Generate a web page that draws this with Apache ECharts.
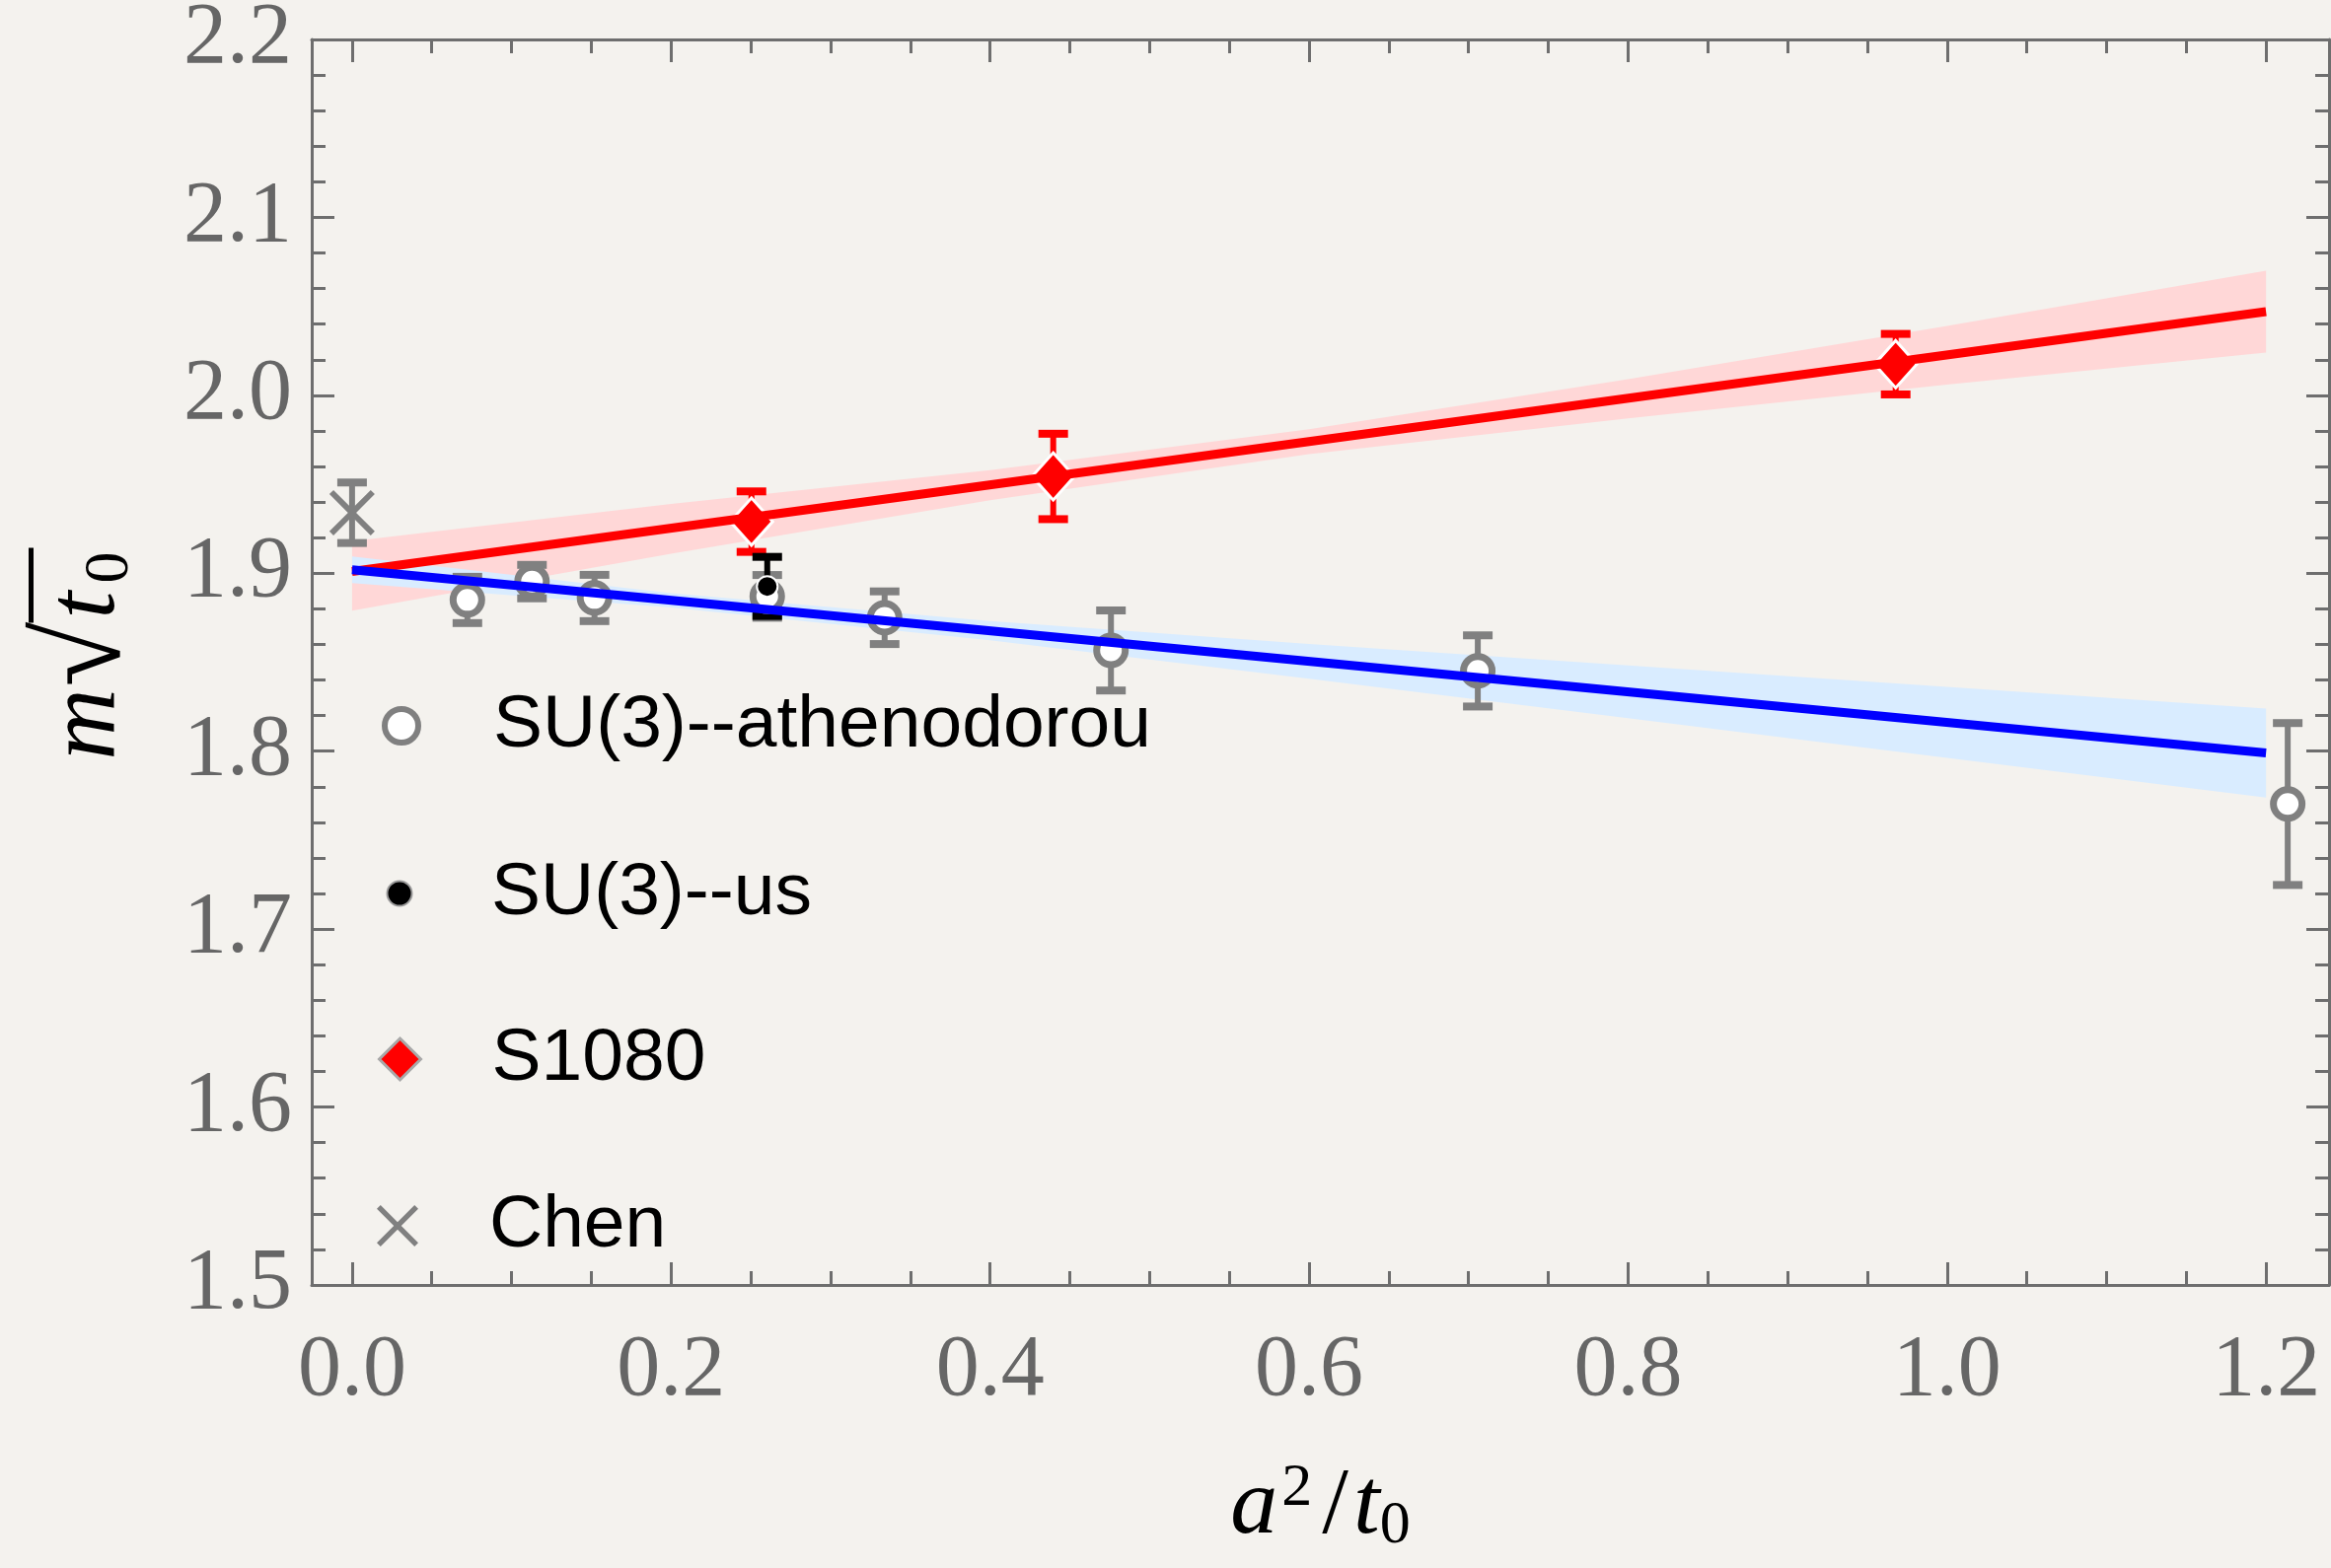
<!DOCTYPE html>
<html>
<head>
<meta charset="utf-8">
<script src="https://cdn.jsdelivr.net/npm/echarts@6/dist/echarts.min.js"></script>
<style>
html,body{margin:0;padding:0;background:#f4f2ee;}
#chart{width:2363px;height:1590px;}
</style>
</head>
<body>
<div id="chart"></div>
<script>
// ---------------- data ----------------
const athenX   = [0.0723, 0.1128, 0.1520, 0.2603, 0.3339, 0.4758, 0.7058, 1.2136];
const athenY   = [1.8850, 1.8953, 1.8861, 1.8870, 1.8750, 1.8566, 1.8451, 1.7703];
const athenErr = [0.0130, 0.0094, 0.0130, 0.0120, 0.0148, 0.0225, 0.0200, 0.0455];

const usX   = [0.2603];
const usY   = [1.8926];
const usErr = [0.0166];

const s1080X   = [0.2504, 0.4396, 0.9678];
const s1080Y   = [1.9290, 1.9544, 2.0175];
const s1080Err = [0.0170, 0.0240, 0.0170];

const chenX   = [0.0];
const chenY   = [1.9340];
const chenErr = [0.0170];

const fitX      = [0.0, 1.2];
const redFitY   = [1.901, 2.047];
const blueFitY  = [1.902, 1.799];

const bandX        = [0.0, 0.2, 0.4, 0.6, 0.8, 1.0, 1.2];
const redBandUp    = [1.918, 1.939, 1.958, 1.981, 2.009, 2.039, 2.070];
const redBandLo    = [1.879, 1.911, 1.941, 1.967, 1.987, 2.006, 2.024];
const blueBandUp   = [1.9095, 1.8888, 1.8731, 1.8603, 1.8482, 1.8361, 1.8240];
const blueBandLo   = [1.8945, 1.8808, 1.8623, 1.8407, 1.8186, 1.7963, 1.7740];

const xMajorTicks = [0.0, 0.2, 0.4, 0.6, 0.8, 1.0, 1.2];
const xMinorTicks = [0.05, 0.1, 0.15, 0.25, 0.3, 0.35, 0.45, 0.5, 0.55, 0.65, 0.7, 0.75, 0.85, 0.9, 0.95, 1.05, 1.1, 1.15];
const xRange = [-0.0253, 1.2395];
const yRange = [1.5, 2.2];
const yStep = 0.1;

const seriesNames = ['SU(3)--athenodorou', 'SU(3)--us', 'S1080', 'Chen'];

// ---------------- styles ----------------
const AX = '#6e6e6e';
const LBL = '#666666';
const GRAY = '#808080';
const serif = 'Liberation Serif';
const sans = 'Liberation Sans';

function zip(xs, ys) { return xs.map((x, i) => [x, ys[i]]); }

function bandSeries(name, xs, lo, hi, color) {
  const data = xs.map((x, i) => [x, lo[i], hi[i]]);
  return {
    type: 'custom', name: name, silent: true, data: data,
    encode: { x: 0, y: [1, 2] },
    renderItem: function (params, api) {
      if (params.dataIndex !== 0) return;
      const up = data.map(d => api.coord([d[0], d[2]]));
      const dn = data.map(d => api.coord([d[0], d[1]])).reverse();
      return { type: 'polygon', shape: { points: up.concat(dn) }, style: { fill: color } };
    }
  };
}

function errSeries(name, xs, ys, es, color) {
  return {
    type: 'custom', name: name, silent: true,
    data: xs.map((x, i) => [x, ys[i], es[i]]),
    encode: { x: 0, y: 1 },
    renderItem: function (params, api) {
      const x = api.value(0), y = api.value(1), e = api.value(2);
      const t = api.coord([x, y + e]), b = api.coord([x, y - e]);
      const hw = 15;
      return {
        type: 'group', children: [
          { type: 'line', shape: { x1: t[0], y1: t[1], x2: b[0], y2: b[1] }, style: { stroke: color, lineWidth: 6 } },
          { type: 'line', shape: { x1: t[0] - hw, y1: t[1], x2: t[0] + hw, y2: t[1] }, style: { stroke: color, lineWidth: 8 } },
          { type: 'line', shape: { x1: b[0] - hw, y1: b[1], x2: b[0] + hw, y2: b[1] }, style: { stroke: color, lineWidth: 8 } }
        ]
      };
    }
  };
}

const xPath = 'path://M0,0.9L0.9,0L5,4.1L9.1,0L10,0.9L5.9,5L10,9.1L9.1,10L5,5.9L0.9,10L0,9.1L4.1,5Z';

function xAxisDef(position, ticks, len, showLine, showLabel) {
  return {
    type: 'value', position: position, min: xRange[0], max: xRange[1],
    axisLine: { show: showLine, onZero: false, lineStyle: { color: AX, width: 3 } },
    axisTick: { show: true, inside: true, length: len, customValues: ticks, lineStyle: { color: AX, width: 3 } },
    axisLabel: showLabel ? {
      show: true, customValues: ticks, margin: 44, color: LBL, fontFamily: serif, fontSize: 88,
      formatter: v => v.toFixed(1)
    } : { show: false },
    splitLine: { show: false }
  };
}

function yAxisDef(position, showLabel) {
  return {
    type: 'value', position: position, min: yRange[0], max: yRange[1], interval: yStep,
    axisLine: { show: true, onZero: false, lineStyle: { color: AX, width: 3 } },
    axisTick: { show: true, inside: true, length: 23, lineStyle: { color: AX, width: 3 } },
    minorTick: { show: true, splitNumber: 5, length: 14, lineStyle: { color: AX, width: 3 } },
    axisLabel: showLabel ? {
      show: true, margin: 20, color: LBL, fontFamily: serif, fontSize: 88,
      padding: [18, 0, 0, 0], formatter: v => v.toFixed(1)
    } : { show: false },
    splitLine: { show: false }, minorSplitLine: { show: false }
  };
}

const yAxisLeft = yAxisDef('left', true);
yAxisLeft.name = '{g|}{bar|}\n{m|m}{r|√}{t|t}{s|0}';
yAxisLeft.nameLocation = 'middle';
yAxisLeft.nameRotate = 90;
yAxisLeft.nameGap = 172;
yAxisLeft.nameTextStyle = {
  color: '#000', fontFamily: serif, fontSize: 100, padding: [0, 0, 0, 16],
  rich: {
    g: { width: 140, height: 5, lineHeight: 5 },
    bar: { width: 76, height: 5, lineHeight: 5, backgroundColor: '#000' },
    m: { fontFamily: serif, fontStyle: 'italic', fontSize: 100, lineHeight: 110, width: 76 },
    r: { fontFamily: serif, fontSize: 120, lineHeight: 110, width: 66 },
    t: { fontFamily: serif, fontStyle: 'italic', fontSize: 100, lineHeight: 110, width: 34 },
    s: { fontFamily: serif, fontSize: 64, lineHeight: 52, verticalAlign: 'bottom', width: 42 }
  }
};

const xAxisBottom = xAxisDef('bottom', xMajorTicks, 23, true, true);
xAxisBottom.name = '{a|a}{sup|2}{sl|/}{t|t}{s|0}';
xAxisBottom.nameLocation = 'middle';
xAxisBottom.nameGap = 176;
xAxisBottom.nameTextStyle = {
  color: '#000', fontFamily: serif, fontSize: 96,
  rich: {
    a: { fontFamily: serif, fontStyle: 'italic', fontSize: 96, lineHeight: 100 },
    sup: { fontFamily: serif, fontSize: 62, lineHeight: 62, verticalAlign: 'top', padding: [0, 10, 0, 4] },
    sl: { fontFamily: serif, fontSize: 96, lineHeight: 100, padding: [0, 5, 0, 0] },
    t: { fontFamily: serif, fontStyle: 'italic', fontSize: 96, lineHeight: 100 },
    s: { fontFamily: serif, fontSize: 62, lineHeight: 48, verticalAlign: 'bottom' }
  }
};

function legendDef(name, icon, w, h, itemStyle, centerY) {
  return {
    show: true, orient: 'vertical', selectedMode: false,
    left: 404 - w / 2, top: centerY - 40, padding: 0,
    itemWidth: w, itemHeight: h,
    data: [{ name: name, icon: icon, itemStyle: itemStyle }],
    textStyle: { color: '#000', fontFamily: sans, fontSize: 75, lineHeight: 80, padding: [0, 0, 0, 93 - w / 2 - 5] }
  };
}

const option = {
  backgroundColor: '#f4f2ee',
  animation: false,
  grid: { left: 316, right: 2, top: 40, bottom: 287, containLabel: false, outerBoundsMode: 'none' },
  xAxis: [
    xAxisBottom,
    xAxisDef('bottom', xMinorTicks, 14, false, false),
    xAxisDef('top', xMajorTicks, 23, true, false),
    xAxisDef('top', xMinorTicks, 14, false, false)
  ],
  yAxis: [yAxisLeft, yAxisDef('right', false)],
  legend: [
    legendDef(seriesNames[0], 'circle', 34, 34, { color: '#ffffff', borderColor: GRAY, borderWidth: 6 }, 736),
    legendDef(seriesNames[1], 'circle', 25, 25, { color: '#000000', borderColor: '#9a9a9a', borderWidth: 2 }, 906),
    legendDef(seriesNames[2], 'diamond', 42, 42, { color: '#ff0000', borderColor: '#a8a8a8', borderWidth: 3 }, 1074),
    legendDef(seriesNames[3], xPath, 44, 42, { color: GRAY, borderWidth: 0 }, 1243)
  ],
  series: [
    bandSeries('redBand', bandX, redBandLo, redBandUp, '#ffd7d7'),
    {
      type: 'line', name: 'redFit', data: zip(fitX, redFitY), symbol: 'none', silent: true,
      lineStyle: { color: '#ff0000', width: 9 }
    },
    bandSeries('blueBand', bandX, blueBandLo, blueBandUp, '#d9ecff'),
    {
      type: 'line', name: 'blueFit', data: zip(fitX, blueFitY), symbol: 'none', silent: true,
      lineStyle: { color: '#0000ff', width: 9 }
    },
    errSeries('athenErr', athenX, athenY, athenErr, GRAY),
    errSeries('chenErr', chenX, chenY, chenErr, GRAY),
    errSeries('s1080Err', s1080X, s1080Y, s1080Err, '#ff0000'),
    {
      type: 'scatter', name: seriesNames[0], data: zip(athenX, athenY), symbol: 'circle', symbolSize: 29,
      itemStyle: { color: '#ffffff', borderColor: GRAY, borderWidth: 7, opacity: 1 }
    },
    {
      type: 'scatter', name: seriesNames[3], data: zip(chenX, chenY), symbol: xPath, symbolSize: 46,
      itemStyle: { color: GRAY, opacity: 1 }
    },
    {
      type: 'scatter', name: seriesNames[2], data: zip(s1080X, s1080Y), symbol: 'diamond', symbolSize: [43, 48],
      itemStyle: { color: '#ff0000', borderColor: '#ffffff', borderWidth: 3, opacity: 1 }
    },
    errSeries('usErr', usX, usY, usErr, '#000000'),
    {
      type: 'scatter', name: seriesNames[1], data: zip(usX, usY), symbol: 'circle', symbolSize: 21,
      itemStyle: { color: '#000000', borderColor: '#ffffff', borderWidth: 2, opacity: 1 }
    }
  ]
};

const chart = echarts.init(document.getElementById('chart'), null, { renderer: 'canvas' });
chart.setOption(option);
</script>
</body>
</html>
